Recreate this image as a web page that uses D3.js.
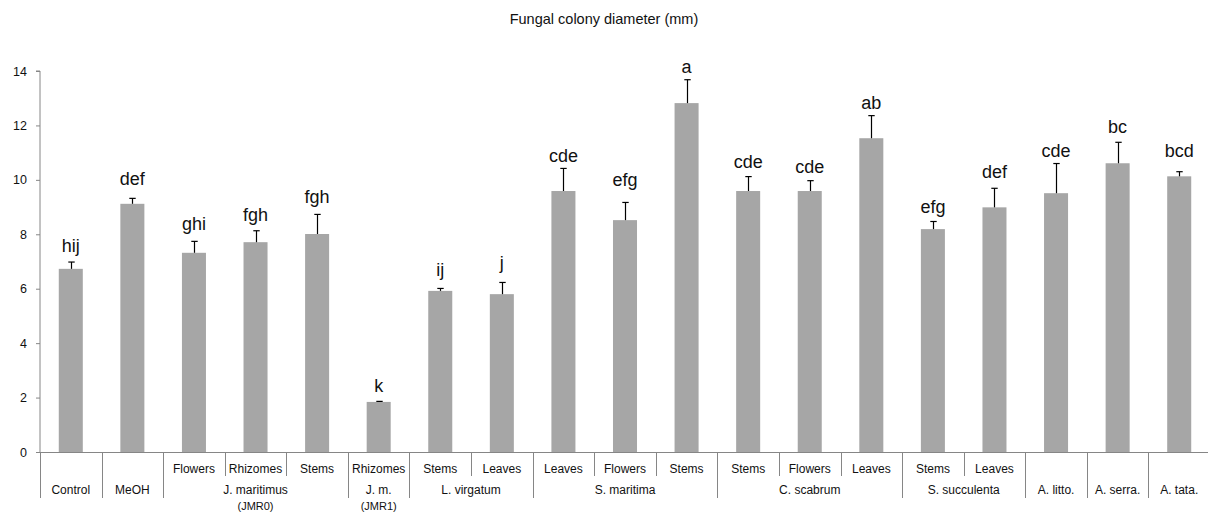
<!DOCTYPE html>
<html>
<head>
<meta charset="utf-8">
<script src="https://cdn.jsdelivr.net/npm/d3@7"></script>
<style>
  html, body { margin: 0; padding: 0; background: #fff; }
  svg { display: block; font-family: "Liberation Sans", Arial, sans-serif; }
</style>
</head>
<body>
<svg id="chart" width="1208" height="516"></svg>
<script>
// ---- data ----
const title = "Fungal colony diameter (mm)";
const subLabels = ["", "", "Flowers", "Rhizomes", "Stems", "Rhizomes", "Stems", "Leaves", "Leaves", "Flowers", "Stems", "Stems", "Flowers", "Leaves", "Stems", "Leaves", "", "", ""];
const means  = [6.73, 9.12, 7.32, 7.71, 8.01, 1.84, 5.92, 5.80, 9.59, 8.52, 12.82, 9.59, 9.59, 11.53, 8.19, 8.99, 9.51, 10.61, 10.13];
const errors = [0.25, 0.20, 0.42, 0.42, 0.72, 0.02, 0.09, 0.43, 0.83, 0.65, 0.86, 0.53, 0.38, 0.83, 0.28, 0.70, 1.09, 0.77, 0.17];
const letters = ["hij", "def", "ghi", "fgh", "fgh", "k", "ij", "j", "cde", "efg", "a", "cde", "cde", "ab", "efg", "def", "cde", "bc", "bcd"];
const letterAt = [7.35, 9.81, 8.16, 8.47, 9.16, 2.22, 6.45, 6.71, 10.65, 9.79, 13.91, 10.43, 10.26, 12.60, 8.77, 10.06, 10.85, 11.71, 10.85];
const groupNames = ["Control", "MeOH", "J. maritimus", "J. m.", "L. virgatum", "S. maritima", "C. scabrum", "S. succulenta", "A. litto.", "A. serra.", "A. tata."];
const groupNotes = ["", "", "(JMR0)", "(JMR1)", "", "", "", "", "", "", ""];
const groupSizes = [1, 1, 3, 1, 2, 3, 3, 2, 1, 1, 1];
const yTicks = [0, 2, 4, 6, 8, 10, 12, 14];

// ---- layout ----
(function () {
const svg = d3.select("#chart");
const mLeft = 40, mRight = 1210, mTop = 71, mBottom = 452;
const axisColor = "#868686";
const idx = d3.range(means.length);

const x = d3.scaleBand().domain(idx).range([mLeft, mRight]).paddingInner(0).paddingOuter(0);
const y = d3.scaleLinear().domain([0, 14]).range([mBottom, mTop]);
const bw = x.bandwidth();
const barW = bw * 0.39;

// title
svg.append("text")
  .attr("x", 604).attr("y", 24)
  .attr("text-anchor", "middle")
  .attr("font-size", 14.5)
  .attr("fill", "#111")
  .text(title);

// y axis
const yAxis = d3.axisLeft(y).tickValues(yTicks).tickSize(4).tickPadding(9).tickFormat(d3.format("d"));
const gy = svg.append("g").attr("transform", `translate(${mLeft},0)`).call(yAxis);
gy.select(".domain").attr("stroke", axisColor).attr("d", `M-4,${mTop}H0V${mBottom}`);
gy.selectAll(".tick line").attr("stroke", axisColor);
gy.selectAll(".tick text").attr("font-size", 12.5).attr("fill", "#111")
  .attr("font-family", "'Liberation Sans', Arial, sans-serif");

// x axis line
svg.append("line")
  .attr("x1", mLeft).attr("x2", mRight)
  .attr("y1", mBottom + 0.5).attr("y2", mBottom + 0.5)
  .attr("stroke", axisColor).attr("stroke-width", 1);

// bars
svg.append("g").selectAll("rect").data(idx).join("rect")
  .attr("x", i => x(i) + (bw - barW) / 2)
  .attr("y", i => y(means[i]))
  .attr("width", barW)
  .attr("height", i => y(0) - y(means[i]))
  .attr("fill", "#a6a6a6");

// error bars
const eg = svg.append("g").attr("stroke", "#000").attr("stroke-width", 1.2);
idx.forEach(i => {
  const cx = Math.round(x(i) + bw / 2) + 0.5;
  eg.append("line").attr("x1", cx).attr("x2", cx)
    .attr("y1", y(means[i])).attr("y2", y(means[i] + errors[i]));
  eg.append("line").attr("x1", cx - 3.2).attr("x2", cx + 3.2)
    .attr("y1", y(means[i] + errors[i])).attr("y2", y(means[i] + errors[i]));
});

// significance letters
svg.append("g").selectAll("text").data(idx).join("text")
  .attr("x", i => x(i) + bw / 2)
  .attr("y", i => y(letterAt[i]))
  .attr("text-anchor", "middle")
  .attr("font-size", 18)
  .attr("fill", "#111")
  .text(i => letters[i]);

// category table below axis
const starts = [];
groupSizes.reduce((acc, n) => { starts.push(acc); return acc + n; }, 0);
const groupStartSet = new Set(starts);

const tg = svg.append("g");
d3.range(means.length + 1).forEach(k => {
  const xx = k < means.length ? x(k) : mRight;
  const isGroup = k === means.length || groupStartSet.has(k);
  const xp = Math.round(xx) + 0.5;
  tg.append("line")
    .attr("x1", xp).attr("x2", xp)
    .attr("y1", mBottom).attr("y2", isGroup ? 498 : 476)
    .attr("stroke", axisColor).attr("stroke-width", 1);
});
tg.selectAll("text.sub").data(idx.filter(i => subLabels[i] !== "")).join("text")
  .attr("class", "sub")
  .attr("x", i => x(i) + bw / 2)
  .attr("y", 472.5)
  .attr("text-anchor", "middle")
  .attr("font-size", 12)
  .attr("fill", "#111")
  .text(i => subLabels[i]);
groupNames.forEach((g, gi) => {
  const s = starts[gi], n = groupSizes[gi];
  const cx = x(s) + n * bw / 2;
  tg.append("text")
    .attr("x", cx).attr("y", 493.5)
    .attr("text-anchor", "middle")
    .attr("font-size", 12)
    .attr("fill", "#111")
    .text(g);
  if (groupNotes[gi]) {
    tg.append("text")
      .attr("x", cx).attr("y", 510)
      .attr("text-anchor", "middle")
      .attr("font-size", 11)
      .attr("fill", "#111")
      .text(groupNotes[gi]);
  }
});
})();
</script>
</body>
</html>
